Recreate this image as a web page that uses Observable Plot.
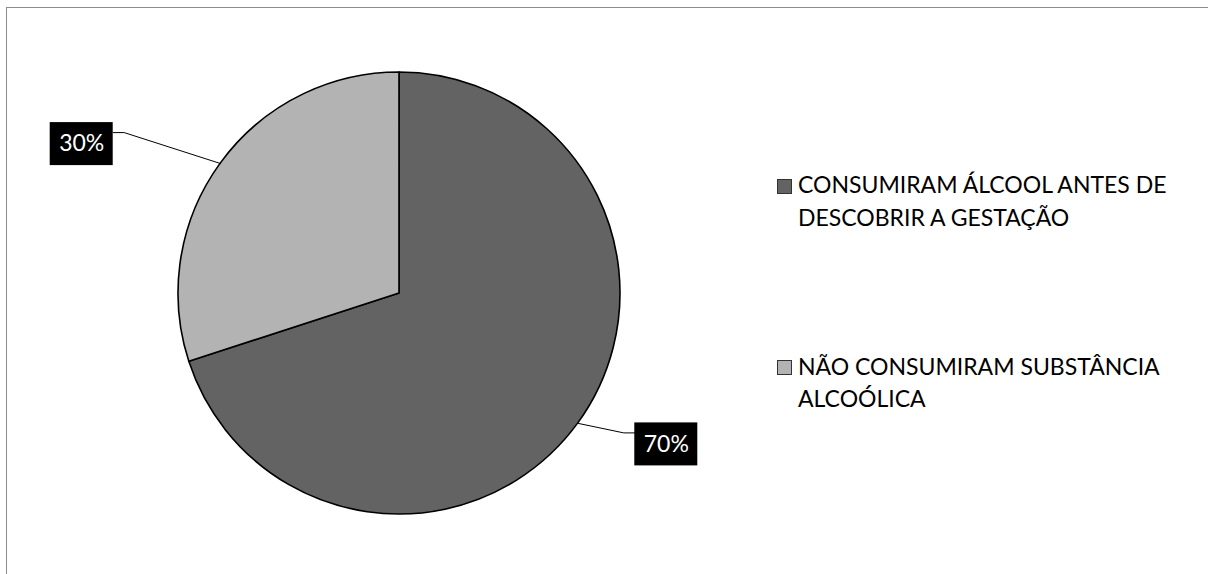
<!DOCTYPE html>
<html>
<head>
<meta charset="utf-8">
<script src="https://cdn.jsdelivr.net/npm/d3@7"></script>
<script src="https://cdn.jsdelivr.net/npm/@observablehq/plot@0.6"></script>
<style>
  html, body { margin: 0; padding: 0; background: #fff; width: 1208px; height: 574px; overflow: hidden; font-family: Lato, "Liberation Sans", sans-serif; }
  #chart { position: absolute; left: 0; top: 0; }
  #frame { position: absolute; left: 6px; top: 7px; width: 1230px; height: 600px; border: 1px solid #8c8c8c; box-sizing: border-box; pointer-events: none; z-index: 5; }
  .leg-swatch { position: absolute; width: 15px; height: 15px; box-sizing: border-box; border: 1.5px solid #333; }
  .leg-text { position: absolute; width: 395px; font-size: 23px; line-height: 32.5px; color: #000; white-space: normal; }
</style>
</head>
<body>
<div id="chart"></div>
<div id="legend"></div>
<div id="frame"></div>
<script>
// ---- data ----
const categories = ["CONSUMIRAM ÁLCOOL ANTES DE DESCOBRIR A GESTAÇÃO", "NÃO CONSUMIRAM SUBSTÂNCIA ALCOÓLICA"];
const values = [70, 30];
const valueLabels = ["70%", "30%"];
const colors = ["#636363", "#b3b3b3"];

// ---- layout (pixels) ----
const R_PX = 221;                                  // pie radius in px (matches scale range)
const labelShift = [[88, 21], [-139, -19.5]];      // label box centre relative to rim midpoint
const boxHalf = [31.5, 21.5];
const leaderDrop = 10, elbowLen = 11;
const legendTextTop = [168.2, 349.9];
const legendSwatchTop = [179, 360];

const arcs = d3.pie().sort(null).value(d => d)(values);

const labelData = arcs.map((a, i) => {
  const mid = (a.startAngle + a.endAngle) / 2;
  const rx = Math.sin(mid), ry = Math.cos(mid);
  const cx = rx + labelShift[i][0] / R_PX;
  const cy = ry - labelShift[i][1] / R_PX;
  const side = Math.sign(labelShift[i][0]);
  return {
    key: i, rx, ry, cx, cy, text: valueLabels[i],
    x1: cx - boxHalf[0] / R_PX, x2: cx + boxHalf[0] / R_PX,
    y1: cy - boxHalf[1] / R_PX, y2: cy + boxHalf[1] / R_PX,
    ax: cx - side * boxHalf[0] / R_PX,
    ay: cy + (boxHalf[1] - leaderDrop) / R_PX,
    side
  };
});

const leaderPts = labelData.flatMap(d => [
  {key: d.key, x: d.rx, y: d.ry},
  {key: d.key, x: d.ax - d.side * elbowLen / R_PX, y: d.ay},
  {key: d.key, x: d.ax, y: d.ay}
]);

function pieMark(index, scales) {
  const cx = scales.x(0), cy = scales.y(0), r = scales.x(1) - scales.x(0);
  const arc = d3.arc().innerRadius(0).outerRadius(r);
  const g = d3.create("svg:g").attr("transform", `translate(${cx},${cy})`);
  g.selectAll("path").data(arcs).join("path")
    .attr("d", arc)
    .attr("fill", (d, i) => colors[i])
    .attr("stroke", "#000")
    .attr("stroke-width", 1.6)
    .attr("stroke-linejoin", "round");
  return g.node();
}

const chart = Plot.plot({
  width: 1208,
  height: 574,
  margin: 0,
  style: {background: "transparent"},
  x: {type: "linear", domain: [-1, 1], range: [178, 620], axis: null},
  y: {type: "linear", domain: [-1, 1], range: [514, 72], axis: null},
  marks: [
    pieMark,
    Plot.line(leaderPts, {x: "x", y: "y", z: "key", stroke: "#000", strokeWidth: 1}),
    Plot.rect(labelData, {x1: "x1", x2: "x2", y1: "y1", y2: "y2", fill: "#000"}),
    Plot.text(labelData, {x: "cx", y: "cy", text: "text", fill: "#fff", fontSize: 23, fontFamily: "Lato"})
  ]
});
document.getElementById("chart").appendChild(chart);

const legend = d3.select("#legend");
categories.forEach((c, i) => {
  legend.append("div").attr("class", "leg-swatch")
    .style("left", "777px").style("top", legendSwatchTop[i] + "px")
    .style("background", colors[i]);
  legend.append("div").attr("class", "leg-text")
    .style("left", "798px").style("top", legendTextTop[i] + "px")
    .text(c);
});
</script>
</body>
</html>
